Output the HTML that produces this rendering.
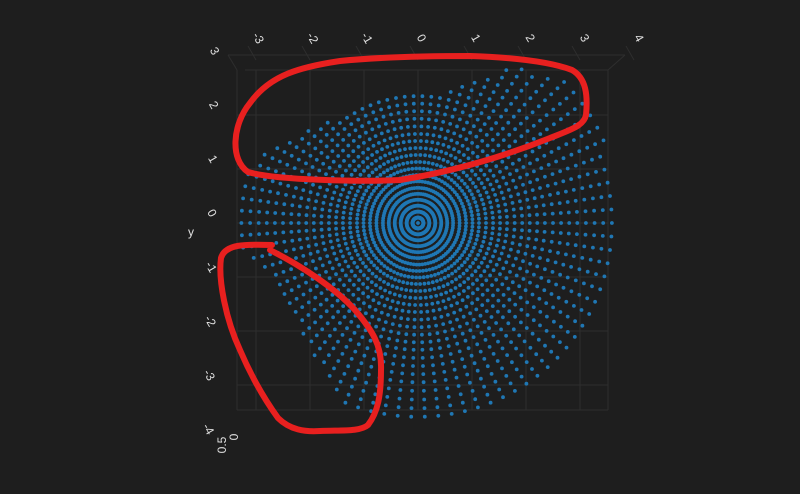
<!DOCTYPE html>
<html><head><meta charset="utf-8"><style>
html,body{margin:0;padding:0;background:#1e1e1e;}
svg{display:block;}
text{font-family:"Liberation Sans",sans-serif;fill:#e0e0e0;font-size:12px;}
</style></head><body>
<svg id="chart" width="800" height="494" viewBox="0 0 800 494">
<rect width="800" height="494" fill="#1e1e1e"/>
<g id="grid" stroke="#2e2e2e" stroke-width="1" fill="none"></g>
<g id="ticks"></g>
<g id="points" fill="#1f77b4"></g>
<g fill="none" stroke="#e8201f" stroke-width="6" stroke-linecap="round" stroke-linejoin="round">
<path d="M250,103 C232,125 230,160 248,172 C275,180 360,182 400,180 C450,172 500,158 550,138 C570,130 584,126 586,115 C588,95 586,78 572,70 C545,60 500,57 470,56 C420,56 380,57 340,61 C300,67 270,75 250,103"/>
<path d="M272,245 C245,244 225,244 221,258 C218,280 226,320 240,350 C252,378 265,400 278,418 C290,430 305,432 320,431 C340,430 360,432 368,425 C378,412 381,395 381,370 C382,345 372,330 355,310 C335,288 300,265 270,250"/>
</g>
<text x="188" y="236" font-size="13">y</text>
</svg>
<script>
const xTicks = [-3,-2,-1,0,1,2,3,4];
const yTicks = [3,2,1,0,-1,-2,-3,-4];
const ringRadii = [0.10,0.21,0.32,0.43,0.54,0.65,0.77,0.89,1.01,1.13,1.26,1.39,1.52,1.65,1.79,1.93,2.07,2.21,2.35,2.50,2.65,2.80,2.95,3.11,3.27,3.43,3.59,3.76];
const spokeMaxR = [3.7,3.7,3.7,3.71,3.72,3.74,3.76,3.76,3.77,3.78,3.78,3.78,3.68,3.56,3.47,3.35,3.07,2.88,2.72,2.57,2.45,2.4,
2.4,2.4,2.4,2.4,2.4,2.4,2.4,2.4,2.4,2.4,
2.46,2.54,2.62,2.7,2.78,2.89,3.01,3.12,3.2,3.28,3.33,3.35,3.35,3.35,3.39,3.4,3.24,2.98,2.9,2.86,2.85,2.85,2.86,2.9,2.98,3.06,3.14,3.22,3.3,3.46,3.62,
3.7,3.7,3.7,3.7,3.7,3.7,3.7,3.7,3.7,3.7,3.7,3.7,3.7,3.7,3.7,3.7,3.7,3.7,3.7,3.7,3.7,3.7,3.7,3.7,3.7,3.7,3.7];

const NS='http://www.w3.org/2000/svg';
const cx=418, cy=223, scale=54;
const sx = v => cx + v*scale;
const sy = v => cy - v*scale;

const grid=document.getElementById('grid');
function line(x1,y1,x2,y2,name){
  const l=document.createElementNS(NS,'line');
  l.setAttribute('x1',x1);l.setAttribute('y1',y1);l.setAttribute('x2',x2);l.setAttribute('y2',y2);
  
  
  grid.appendChild(l);
}
line(245,70,608,70,'box-top');line(237,410,608,410,'box-bottom');
line(237,70,237,410,'box-left');line(608,70,608,410,'box-right');
line(228,55,625,55,'box-back-top');line(228,55,237,70,'box-edge');line(625,55,608,70,'box-edge');
xTicks.forEach(t=>{ if(sx(t)>240&&sx(t)<610) line(sx(t),70,sx(t),410,'x-grid-line'); line(sx(t)-8,46,sx(t),60,'x-tick-line');});
yTicks.forEach(t=>{ if(sy(t)>68&&sy(t)<412) line(237,sy(t),608,sy(t),'y-grid-line'); });

const tg=document.getElementById('ticks');
xTicks.forEach(t=>{
  const e=document.createElementNS(NS,'text');
  const x=sx(t)+(t*0.4), y=40;
  e.setAttribute('x',x);e.setAttribute('y',y);
  e.setAttribute('text-anchor','middle');
  e.setAttribute('transform','rotate(60 '+x+' '+y+')');
  e.textContent=t;
  
  
  tg.appendChild(e);
});
yTicks.forEach(t=>{
  const e=document.createElementNS(NS,'text');
  const x=212+t*0.9, y=sy(t)-10;
  e.setAttribute('x',x);e.setAttribute('y',y+4);
  e.setAttribute('text-anchor','middle');
  e.setAttribute('transform','rotate(60 '+x+' '+y+')');
  e.textContent=t;
  
  
  tg.appendChild(e);
});
['0.5','0'].forEach((s,i)=>{
  const e=document.createElementNS(NS,'text');
  const x=226+i*12, y=445-i*8;
  e.setAttribute('x',x);e.setAttribute('y',y);
  e.setAttribute('text-anchor','middle');
  e.setAttribute('transform','rotate(-90 '+x+' '+y+')');
  e.textContent=s;
  
  
  tg.appendChild(e);
});

const pg=document.getElementById('points');
const n=spokeMaxR.length;
for(let s=0;s<n;s++){
  const a=s/n*2*Math.PI;
  ringRadii.forEach(r=>{
    if(r>spokeMaxR[s]) return;
    const c=document.createElementNS(NS,'circle');
    c.setAttribute('cx',(sx(r*Math.cos(a))).toFixed(1));
    c.setAttribute('cy',(sy(r*Math.sin(a))).toFixed(1));
    c.setAttribute('r',1.9);
    
    
    pg.appendChild(c);
  });
}
const c0=document.createElementNS(NS,'circle');
c0.setAttribute('cx',cx);c0.setAttribute('cy',cy);c0.setAttribute('r',1.9);


pg.appendChild(c0);
</script>
</body></html>
